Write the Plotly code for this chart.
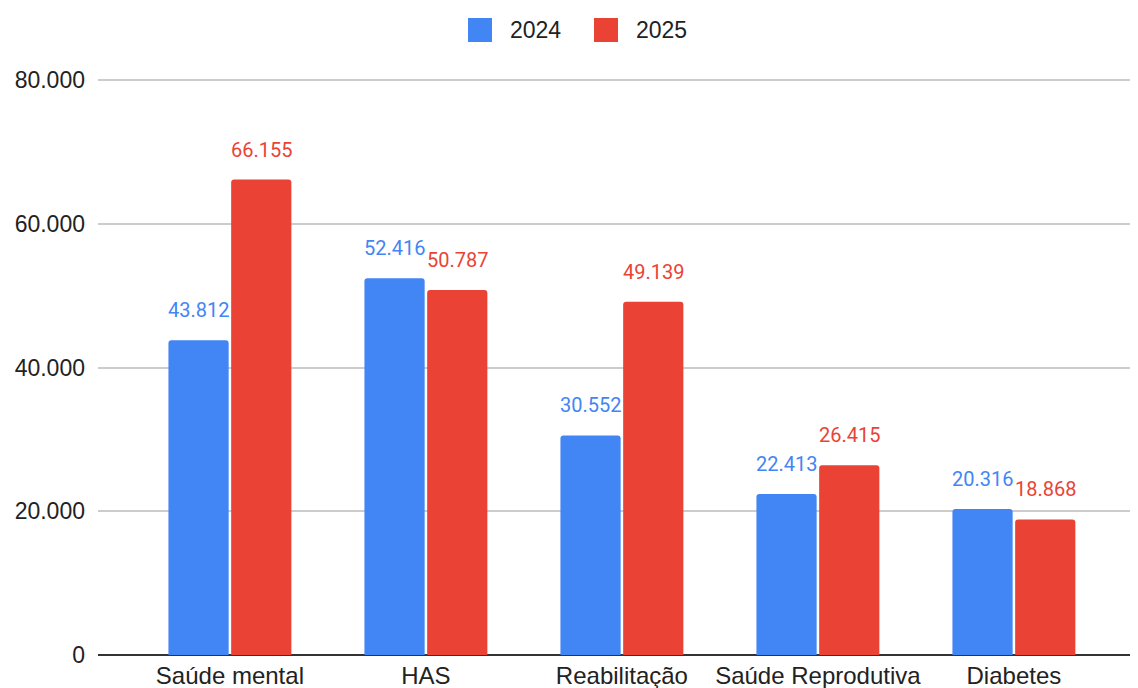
import plotly.graph_objects as go

categories = ["Saúde mental", "HAS", "Reabilitação", "Saúde Reprodutiva", "Diabetes"]
values_2024 = [43812, 52416, 30552, 22413, 20316]
values_2025 = [66155, 50787, 49139, 26415, 18868]
series_names = ["2024", "2025"]
tick_values = [0, 20000, 40000, 60000, 80000]
tick_labels = ["0", "20.000", "40.000", "60.000", "80.000"]

BLUE = "#4285F4"
RED = "#EA4335"
BARGAP = 0.36
BARGROUPGAP = 0.04

# page body has an 8px margin; compensate so the figure fills the 1138x688 window
W, H = 1138, 680
ML, MR, MT, MB = 90, 0, 71, 33
PW, PH = W - ML - MR, H - MT - MB


def fmt(v):
    return f"{v:,}".replace(",", ".")


def px_x(px):
    return (px - 8 - ML) / PW


def px_y(py):
    return (H - MB + 8 - py) / PH


idx = list(range(len(categories)))
fig = go.Figure()
for name, vals, col in [(series_names[0], values_2024, BLUE), (series_names[1], values_2025, RED)]:
    fig.add_trace(go.Bar(x=idx, y=vals, name=name, marker_color=col,
                         marker_line_width=0, showlegend=False, hoverinfo="y"))

slot = (1 - BARGAP) / 2
annotations = []
for vals, col, sign in [(values_2024, BLUE, -1), (values_2025, RED, 1)]:
    for i, v in enumerate(vals):
        annotations.append(dict(x=i + sign * slot / 2, y=v, xref="x", yref="y",
                                text=fmt(v), showarrow=False, yshift=30,
                                font=dict(family="Roboto", size=20, color=col)))

# custom legend (rounded swatches)
shapes = []
legend_items = [(series_names[0], BLUE, 468), (series_names[1], RED, 594)]
for name, col, left in legend_items:
    shapes.append(dict(type="rect", xref="paper", yref="paper",
                       x0=px_x(left), x1=px_x(left + 24), y0=px_y(42), y1=px_y(18),
                       fillcolor=col, line_width=0, layer="above"))
    annotations.append(dict(xref="paper", yref="paper", x=px_x(left + 40), y=px_y(30),
                            xanchor="left", yanchor="middle", text=name, showarrow=False,
                            font=dict(family="Liberation Sans, Arial", size=23, color="#222")))

fig.update_layout(
    width=W, height=H,
    margin=dict(l=ML, r=MR, t=MT, b=MB),
    paper_bgcolor="white", plot_bgcolor="white",
    barmode="group", bargap=BARGAP, bargroupgap=BARGROUPGAP,
    barcornerradius=3,
    separators=",.",
    font=dict(family="Liberation Sans, Arial", size=22, color="#222"),
    showlegend=False,
    annotations=annotations,
    shapes=shapes,
)
fig.update_xaxes(tickmode="array", tickvals=idx, ticktext=categories,
                 range=[-0.673, 4.674], showgrid=False, showline=False,
                 ticks="", ticklabelstandoff=4, zeroline=False,
                 tickfont=dict(size=24, color="#222"))
fig.update_yaxes(range=[0, 80150], tickmode="array", tickvals=tick_values,
                 ticktext=tick_labels, showgrid=True, gridcolor="#cccccc",
                 gridwidth=2, zeroline=True, zerolinecolor="#333333",
                 zerolinewidth=2, showline=False, ticks="",
                 ticklabelstandoff=12, tickfont=dict(size=23, color="#222"))

fig.write_html("out.html")
